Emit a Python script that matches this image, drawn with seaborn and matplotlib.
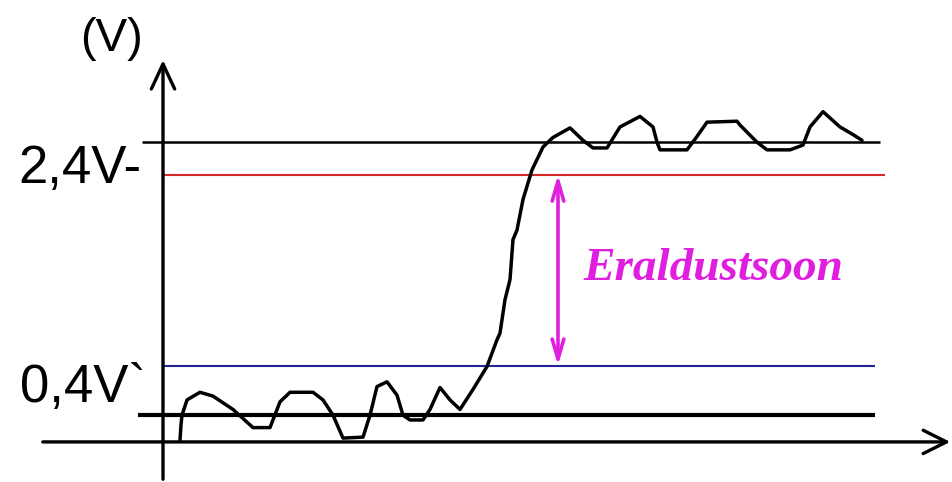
import matplotlib
matplotlib.use("Agg")
import matplotlib.pyplot as plt
import seaborn as sns

# -------- DATA --------
# signal: time (arbitrary units) and voltage (V)
sig_t = [1.7, 1.8, 1.9, 2.4, 3.7, 5.0, 7.0, 9.0, 10.7, 11.7, 12.7, 15.0, 16.0, 17.0,
         18.0, 20.0, 20.7, 21.4, 22.4, 23.4, 24.0, 24.7, 26.0, 26.7, 27.7, 28.7, 29.7,
         31.0, 32.4, 33.4, 33.7, 34.2, 34.7, 35.0, 35.4, 36.0, 36.9, 38.0, 39.0, 40.7,
         42.0, 43.0, 44.4, 45.7, 47.7, 49.0, 49.4, 49.7, 52.4, 53.4, 54.4, 57.4, 57.7,
         59.4, 60.4, 62.7, 64.0, 64.7, 66.0, 67.7, 69.0, 69.9]
sig_v = [-0.38, -0.22, -0.12, 0.04, 0.12, 0.08, -0.06, -0.25, -0.25, 0.02, 0.12, 0.12, 0.04, -0.12,
         -0.36, -0.35, -0.12, 0.18, 0.23, 0.09, -0.12, -0.17, -0.17, -0.06, 0.17, 0.04, -0.06,
         0.15, 0.39, 0.67, 0.74, 1.09, 1.30, 1.72, 1.82, 2.14, 2.45, 2.69, 2.79, 2.89,
         2.76, 2.68, 2.68, 2.90, 3.01, 2.90, 2.74, 2.66, 2.66, 2.80, 2.95, 2.96, 2.92,
         2.74, 2.66, 2.66, 2.71, 2.90, 3.06, 2.90, 2.82, 2.76]

# horizontal reference levels (V)
level_high = 2.74
level_low = -0.12
thresh_high = 2.4
thresh_low = 0.4

labels_y = ["2,4V-", "0,4V`"]
zone_label = "Eraldustsoon"

# -------- PLOT --------
sns.set_theme(style="white")
plt.rcParams["font.family"] = ["Liberation Sans", "DejaVu Sans"]

fig = plt.figure(figsize=(9.53, 4.82), dpi=100)
ax = fig.add_axes([0, 0, 1, 1])
ax.set_xlim(-16.3, 79.0)
ax.set_ylim(-0.82, 4.23)
ax.axis("off")

# axes with arrows
ax.annotate("", xy=(79.0, -0.40), xytext=(-12.3, -0.40),
            arrowprops=dict(arrowstyle="->,head_length=1.4,head_width=0.7", lw=2.4, color="black"))
ax.annotate("", xy=(0, 3.63), xytext=(0, -0.82),
            arrowprops=dict(arrowstyle="->,head_length=1.5,head_width=0.7", lw=2.4, color="black"))

# reference lines
ax.hlines(level_high, -2.1, 71.7, color="black", lw=1.8)
ax.hlines(level_low, -2.5, 71.2, color="black", lw=3.0)
ax.hlines(thresh_high, 0, 72.2, color="#d42a2a", lw=1.5)
ax.hlines(thresh_low, 0, 71.2, color="#24249a", lw=1.5)

# signal
sns.lineplot(x=sig_t, y=sig_v, sort=False, color="black", lw=2.5, ax=ax)

# separation zone arrow
ax.annotate("", xy=(39.5, thresh_high), xytext=(39.5, thresh_low),
            arrowprops=dict(arrowstyle="<->,head_length=1.2,head_width=0.35", lw=2.6,
                            color="#e01ee0", shrinkA=0, shrinkB=0))
ax.text(42.0, 1.30, zone_label, color="#e01ee0", fontsize=34, style="italic",
        fontweight="bold", family=["Liberation Serif", "DejaVu Serif"], va="baseline")

# labels
ax.text(-14.5, 2.31, labels_y[0], fontsize=38, va="baseline", ha="left", color="black")
ax.text(-14.3, 0.02, labels_y[1], fontsize=38, va="baseline", ha="left", color="black")
ax.text(-8.3, 3.82, "(V)", fontsize=34, va="center", ha="left", color="black")

fig.savefig("out.png", dpi=100)
